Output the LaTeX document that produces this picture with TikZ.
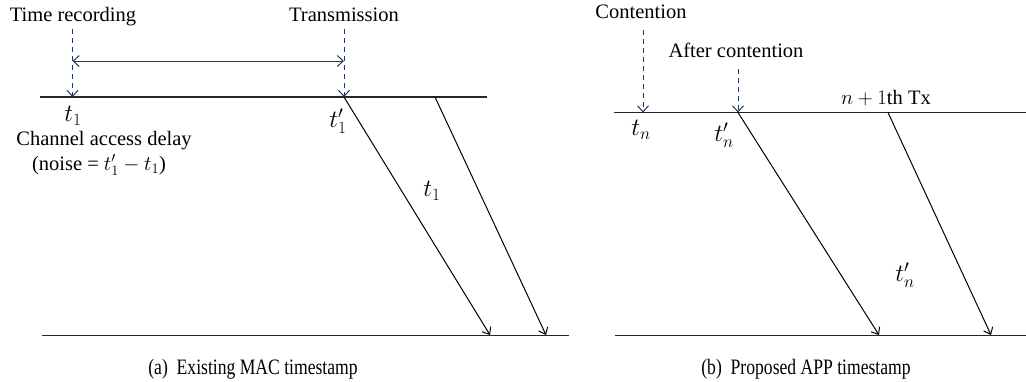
\documentclass[tikz,border=0pt]{standalone}
\usepackage{fontspec}
\setmainfont{Liberation Serif}
\usetikzlibrary{arrows.meta}
\definecolor{navy}{RGB}{35,55,95}
\tikzset{
  lbl/.style={inner sep=0pt, font=\fontsize{20.5}{24}\selectfont},
  mlbl/.style={inner sep=0pt, font=\fontsize{23.5}{26}\selectfont},
  captext/.style={inner sep=0pt, font=\fontsize{22}{26}\selectfont},
  axisline/.style={line width=1.5pt, draw=black!85},
  msgarrow/.style={line width=1pt, -{Straight Barb[length=6pt,width=10pt,line width=1pt]}},
  hintarrow/.style={line width=1pt, draw=navy, dash pattern=on 5pt off 4pt, -{Straight Barb[length=6pt,width=11pt,line width=1pt]}},
  spanarrow/.style={line width=1pt, draw=navy, {Straight Barb[length=6pt,width=11pt,line width=1pt]}-{Straight Barb[length=6pt,width=11pt,line width=1pt]}}
}
\begin{document}
\begin{tikzpicture}[x=1pt,y=-1pt]
\useasboundingbox (0,0) rectangle (1026,381);
% ---- panel (a)
\coordinate (aTL) at (40,97);
\coordinate (aTR) at (487,97);
\coordinate (aBL) at (42,335.5);
\coordinate (aBR) at (569,335.5);
\coordinate (aT1) at (72.5,97);
\coordinate (aT1p) at (344,97);
\coordinate (aS2) at (435,97);
\coordinate (aE1) at (490,335);
\coordinate (aE2) at (546,335);
\coordinate (aD1) at (72.5,29);
\coordinate (aD2) at (344,29);
\coordinate (aH1) at (72.5,61);
\coordinate (aH2) at (344,61);
\draw[axisline] (aTL) -- (aTR);
\draw[axisline] (aBL) -- (aBR);
\draw[hintarrow] (aD1) -- (aT1);
\draw[hintarrow] (aD2) -- (aT1p);
\draw[spanarrow] (aH1) -- (aH2);
\draw[msgarrow] (aT1p) -- (aE1);
\draw[msgarrow] (aS2) -- (aE2);
\node[lbl, anchor=base] (tr) at (73,21) {Time recording};
\node[lbl, anchor=base] (tx) at (344,21) {Transmission};
\node[mlbl] (t1) at (73,116) {$t_1$};
\node[mlbl] (t1p) at (338,121) {$t_1'$};
\node[lbl, anchor=base] (cad) at (104,145) {Channel access delay};
\node[lbl, anchor=base] (noise) at (99,170) {(noise = $t_1' - t_1$)};
\node[mlbl] (t1m) at (432,191) {$t_1$};
\node[captext, anchor=base] (capa) at (253,374) {\scalebox{0.8}[1]{(a)\enspace Existing MAC timestamp}};
% ---- panel (b)
\coordinate (bTL) at (614,112.5);
\coordinate (bTR) at (1026,112.5);
\coordinate (bBL) at (615,335.5);
\coordinate (bBR) at (1026,335.5);
\coordinate (bTn) at (643,112.5);
\coordinate (bTnp) at (738,112.5);
\coordinate (bS2) at (888,112.5);
\coordinate (bE1) at (879,335);
\coordinate (bE2) at (991,335);
\coordinate (bD1) at (643,30);
\coordinate (bD2) at (738,69);
\draw[axisline] (bTL) -- (bTR);
\draw[axisline] (bBL) -- (bBR);
\draw[hintarrow] (bD1) -- (bTn);
\draw[hintarrow] (bD2) -- (bTnp);
\draw[msgarrow] (bTnp) -- (bE1);
\draw[msgarrow] (bS2) -- (bE2);
\node[lbl, anchor=base] (cont) at (641,18) {Contention};
\node[lbl, anchor=base] (acont) at (736,57) {After contention};
\node[lbl, anchor=base] (ntx) at (886,104) {$n+1$th Tx};
\node[mlbl] (tn) at (641,130) {$t_n$};
\node[mlbl] (tnp) at (724,135) {$t_n'$};
\node[mlbl] (tnm) at (905,275) {$t_n'$};
\node[captext, anchor=base] (capb) at (806,374) {\scalebox{0.8}[1]{(b)\enspace Proposed APP timestamp}};
\end{tikzpicture}
\end{document}
